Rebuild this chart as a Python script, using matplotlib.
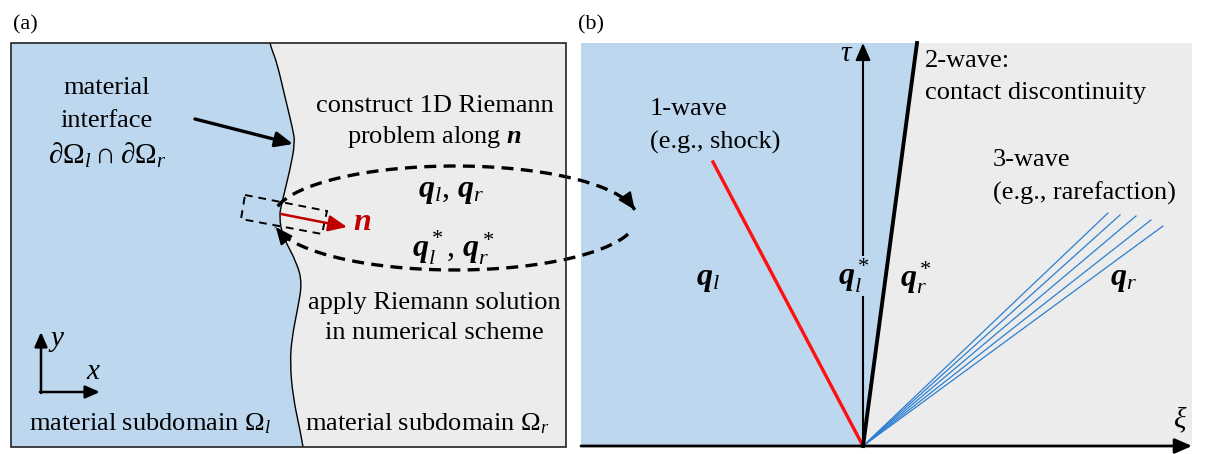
import numpy as np
import matplotlib
matplotlib.use('Agg')
import matplotlib.pyplot as plt
from matplotlib.path import Path
from matplotlib.patches import PathPatch, Polygon, Rectangle, FancyArrowPatch

plt.rcParams['font.family'] = ['Liberation Serif', 'DejaVu Serif']
plt.rcParams['mathtext.fontset'] = 'custom'
plt.rcParams['mathtext.rm'] = 'Liberation Serif'
plt.rcParams['mathtext.it'] = 'Liberation Serif:italic'
plt.rcParams['mathtext.bf'] = 'Liberation Serif:bold:italic'
plt.rcParams['mathtext.fallback'] = 'stix'

BLUE = '#bdd7ee'
GREY = '#ececec'
DARKRED = '#c00000'

# canvas in pixel units
W, H = 1207, 454

# panel (a): domain box and wavy material interface
box_a = (11, 43, 566, 447)
interface_x = [270, 272, 277, 285, 293, 295, 290, 282, 279, 283, 297, 302, 298, 292, 290, 293, 300, 303]
interface_y = [43, 50, 63, 97, 130, 143, 170, 202, 217, 237, 263, 283, 307, 337, 363, 397, 430, 447]
probe_corners = [(245, 195), (327, 211), (322, 234), (241, 219)]
normal_start, normal_end = (281, 214), (347, 227)
pointer_start, pointer_end = (195, 119), (293, 144)

# loop linking the two panels
loop_center = (455, 218)
loop_radii = (182, 52)
loop_upper = (167, 9)
loop_lower = (-18, -170)

# panel (b): wave diagram in (xi, tau)
box_b = (581, 43, 1192, 446)
origin = (863, 446)
contact_top = (917, 43)
shock_end = (713, 162)
fan_end_x = [1108, 1120, 1136, 1151, 1163]
fan_end_y = [213, 215, 216, 220, 226]


def smooth_path(xs, ys):
    # quadratic bezier through the midpoints of the control polygon
    pts = list(zip(xs, ys))
    verts = [pts[0], ((pts[0][0] + pts[1][0]) / 2, (pts[0][1] + pts[1][1]) / 2)]
    codes = [Path.MOVETO, Path.LINETO]
    for i in range(1, len(pts) - 1):
        mid = ((pts[i][0] + pts[i + 1][0]) / 2, (pts[i][1] + pts[i + 1][1]) / 2)
        verts += [pts[i], mid]
        codes += [Path.CURVE3, Path.CURVE3]
    verts.append(pts[-1])
    codes.append(Path.LINETO)
    return verts, codes


def arrow(ax, a, b, color='k', lw=2.0, scale=18, hl=0.8, hw=0.35, z=5):
    ax.add_patch(FancyArrowPatch(a, b, arrowstyle=f'-|>,head_length={hl},head_width={hw}',
                                 mutation_scale=scale, color=color, lw=lw,
                                 shrinkA=0, shrinkB=0, zorder=z))


def ellipse_pts(t0, t1, n=200):
    t = np.radians(np.linspace(t0, t1, n))
    return (loop_center[0] + loop_radii[0] * np.cos(t),
            loop_center[1] - loop_radii[1] * np.sin(t))


fig = plt.figure(figsize=(W / 100, H / 100), dpi=100)
ax = fig.add_axes([0, 0, 1, 1])
ax.set_xlim(0, W)
ax.set_ylim(H, 0)
ax.axis('off')

# ---- panel (a)
x0, y0, x1, y1 = box_a
ax.add_patch(Rectangle((x0, y0), x1 - x0, y1 - y0, facecolor=GREY, edgecolor='none', zorder=0))
verts, codes = smooth_path(interface_x, interface_y)
left_verts = [(x0, y1), (x0, y0)] + verts + [(x0, y1)]
left_codes = [Path.MOVETO, Path.LINETO, Path.LINETO] + codes[1:] + [Path.CLOSEPOLY]
ax.add_patch(PathPatch(Path(left_verts, left_codes), facecolor=BLUE, edgecolor='none', zorder=1))
ax.add_patch(PathPatch(Path(verts, codes), facecolor='none', edgecolor='k', lw=1.0, zorder=3))
ax.add_patch(Rectangle((x0, y0), x1 - x0, y1 - y0, facecolor='none', edgecolor='#222222', lw=1.2, zorder=6))

ax.add_patch(Polygon(probe_corners, closed=True, facecolor='none', edgecolor='k',
                     lw=1.4, linestyle=(0, (4, 3)), zorder=4))
arrow(ax, normal_start, normal_end, color=DARKRED, lw=1.8, scale=14)
arrow(ax, pointer_start, pointer_end, lw=2.4, scale=13)

# dashed loop: out to the wave diagram and back to the interface
ux, uy = ellipse_pts(*loop_upper)
ax.plot(ux, uy, color='k', lw=2.4, linestyle=(0, (3.6, 2.2)), zorder=5)
lx, ly = ellipse_pts(*loop_lower)
ax.plot(lx, ly, color='k', lw=2.4, linestyle=(0, (3.6, 2.2)), zorder=5)
hx, hy = ellipse_pts(loop_upper[1] + 5, loop_upper[1], 2)
arrow(ax, (hx[0], hy[0]), (hx[1], hy[1]), lw=1.5, scale=13)
hx, hy = ellipse_pts(loop_lower[1] + 6, loop_lower[1], 2)
arrow(ax, (hx[0], hy[0]), (hx[1], hy[1]), lw=1.5, scale=13)

# coordinate symbol
arrow(ax, (41, 393), (41, 332), lw=1.8, scale=11)
arrow(ax, (40, 392), (100, 392), lw=1.8, scale=11)

fs = 19
fm = 23
ax.text(13, 25, '(a)', fontsize=16, ha='left', va='center')
ax.text(578, 25, '(b)', fontsize=16, ha='left', va='center')
ax.text(107, 88, 'material', fontsize=fs, ha='center', va='center')
ax.text(107, 121, 'interface', fontsize=fs, ha='center', va='center')
ax.text(107, 155, r'$\partial\Omega_l\cap\partial\Omega_r$', fontsize=21, ha='center', va='center')
ax.text(435, 106, 'construct 1D Riemann', fontsize=fs, ha='center', va='center')
ax.text(435, 137, r'problem along $\mathbf{n}$', fontsize=fs, ha='center', va='center')
ax.text(451, 191, r'$\mathbf{q}_l$, $\mathbf{q}_r$', fontsize=fm, ha='center', va='center')
ax.text(453, 248, r'$\mathbf{q}_l^*$, $\mathbf{q}_r^*$', fontsize=fm, ha='center', va='center')
ax.text(362, 222, r'$\mathbf{n}$', fontsize=fm, color=DARKRED, ha='center', va='center')
ax.text(434, 303, 'apply Riemann solution', fontsize=fs, ha='center', va='center')
ax.text(434, 333, 'in numerical scheme', fontsize=fs, ha='center', va='center')
ax.text(57, 341, r'$y$', fontsize=21, ha='center', va='center')
ax.text(94, 372, r'$x$', fontsize=21, ha='center', va='center')
ax.text(29, 424, r'material subdomain $\Omega_l$', fontsize=fs, ha='left', va='center')
ax.text(305, 424, r'material subdomain $\Omega_r$', fontsize=fs, ha='left', va='center')

# ---- panel (b)
bx0, by0, bx1, by1 = box_b
ax.add_patch(Polygon([(bx0, by0), contact_top, origin, (bx0, by1)], closed=True,
                     facecolor=BLUE, edgecolor='none', zorder=0))
ax.add_patch(Polygon([contact_top, (bx1, by0), (bx1, by1), origin], closed=True,
                     facecolor=GREY, edgecolor='none', zorder=0))

ax.plot([origin[0], shock_end[0]], [origin[1], shock_end[1]], color='#ff1010', lw=2.4, zorder=3)
for ex, ey in zip(fan_end_x, fan_end_y):
    ax.plot([origin[0], ex], [origin[1], ey], color='#2c7fd0', lw=0.9, zorder=3)
ax.plot([origin[0], contact_top[0]], [origin[1], contact_top[1]], color='k', lw=2.8, zorder=3)

arrow(ax, origin, (origin[0], by0), lw=1.5, scale=13, z=2)
arrow(ax, (bx0, by1), (bx1, by1), lw=2.0, scale=13, z=4)

ax.text(847, 54, r'$\tau$', fontsize=21, ha='center', va='center')
ax.text(1180, 420, r'$\xi$', fontsize=21, ha='center', va='center')
ax.text(925, 61, '2-wave:', fontsize=fs, ha='left', va='center')
ax.text(925, 93, 'contact discontinuity', fontsize=fs, ha='left', va='center')
ax.text(650, 109, '1-wave', fontsize=fs, ha='left', va='center')
ax.text(650, 142, '(e.g., shock)', fontsize=fs, ha='left', va='center')
ax.text(993, 160, '3-wave', fontsize=fs, ha='left', va='center')
ax.text(993, 193, '(e.g., rarefaction)', fontsize=fs, ha='left', va='center')
ax.text(708, 280, r'$\mathbf{q}_l$', fontsize=fm, ha='center', va='center')
ax.text(854, 276, r'$\mathbf{q}_l^*$', fontsize=fm, ha='center', va='center',
        bbox=dict(facecolor=BLUE, edgecolor='none', pad=1), zorder=4)
ax.text(916, 278, r'$\mathbf{q}_r^*$', fontsize=fm, ha='center', va='center')
ax.text(1124, 280, r'$\mathbf{q}_r$', fontsize=fm, ha='center', va='center')

fig.savefig('out.png', dpi=100)
